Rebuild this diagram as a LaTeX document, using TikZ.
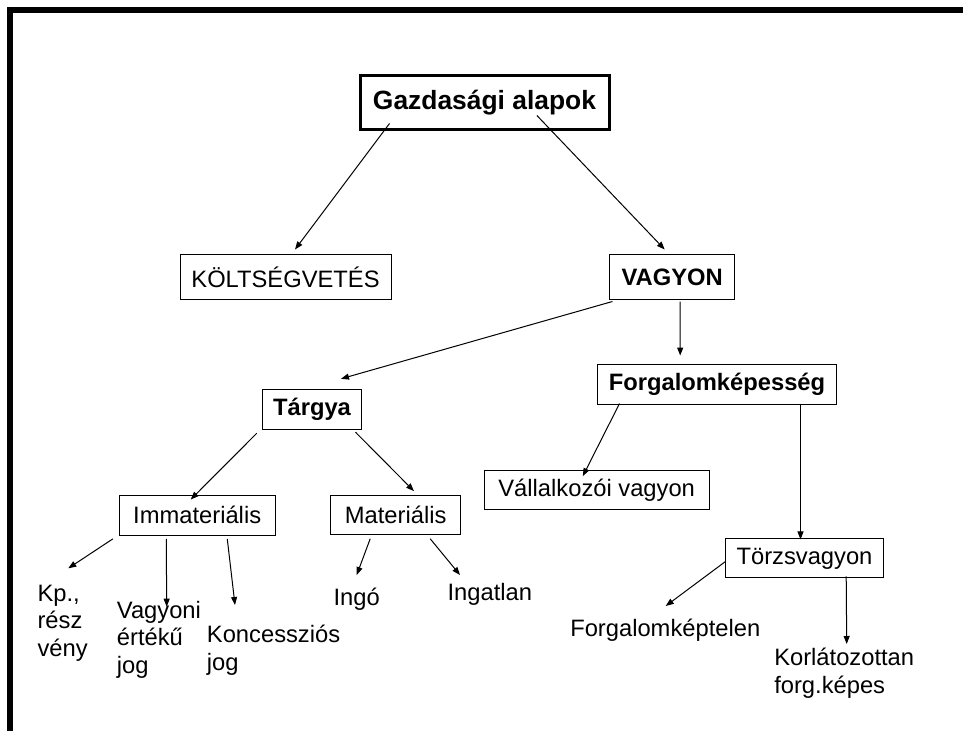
\documentclass[tikz,border=0pt]{standalone}
\usepackage{fontspec}
\setmainfont{Liberation Sans}
\usetikzlibrary{arrows.meta}
\usetikzlibrary{calc}
\tikzset{
	box/.style={draw, line width=0.75pt, inner sep=0pt, font=\fontsize{17.8}{20.5}\selectfont},
	leaf/.style={inner sep=0pt, anchor=base west, align=left, font=\fontsize{17.8}{20.5}\selectfont},
	arr/.style={line width=0.75pt, -{Triangle[length=6pt,width=4.5pt]}}
}

\begin{document}
\begin{tikzpicture}[x=0.75pt,y=-0.75pt]
		\useasboundingbox (0,0) rectangle (963,731) ;
		\draw[line width=4.5pt] (10,731) -- (10,10.5) -- (963,10.5) ;
\par
\node[box, line width=2.25pt, minimum width=186.75pt, minimum height=40.5pt, font=\fontsize{19.8}{23}\selectfont\bfseries] (gazd) at (484.5,103) {Gazdasági alapok} ;
		\node[box, minimum width=158.25pt, minimum height=33.75pt] (kolt) at (285.5,277) {KÖLTSÉGVETÉS} ;
		\node[box, minimum width=93.4pt, minimum height=33.75pt, font=\fontsize{17.8}{20.5}\selectfont\bfseries] (vagyon) at (672.2,277) {VAGYON} ;
		\node[box, minimum width=74.55pt, minimum height=30pt, font=\fontsize{17.8}{20.5}\selectfont\bfseries] (targya) at (312,409) {Tárgya} ;
		\node[box, minimum width=179.55pt, minimum height=29.8pt, font=\fontsize{17.8}{20.5}\selectfont\bfseries] (forg) at (717,384.2) {Forgalomképesség} ;
		\node[box, minimum width=169pt, minimum height=29.5pt] (vall) at (596.7,490.3) {Vállalkozói vagyon} ;
		\node[box, minimum width=118.2pt, minimum height=29pt] (torzs) at (804.5,558.3) {Törzsvagyon} ;
		\node[box, minimum width=117.2pt, minimum height=29.8pt] (immat) at (197.2,515.2) {Immateriális} ;
		\node[box, minimum width=97.5pt, minimum height=29.5pt] (mat) at (395.7,515.3) {Materiális} ;
\par
\node[leaf] (kp) at (37.3,656) {Kp.,\\rész\\vény} ;
		\node[leaf] (vagyoni) at (116.7,673) {Vagyoni\\értékű\\jog} ;
		\node[leaf] (konc) at (206.7,670) {Koncessziós\\jog} ;
		\node[leaf] (ingo) at (333.3,605.5) {Ingó} ;
		\node[leaf] (ingatlan) at (447.3,600) {Ingatlan} ;
		\node[leaf] (fkeptelen) at (570,636.7) {Forgalomképtelen} ;
		\node[leaf] (korl) at (774,693.3) {Korlátozottan\\forg.képes} ;
\par
\draw[arr] ($(gazd.south west)+(31,-8)$) -- ($(kolt.north)+(9.5,-4.5)$) ;
		\draw[arr] ($(gazd.south west)+(178.4,-16)$) -- ($(vagyon.north)+(-7.5,-4.5)$) ;
		\draw[arr] ($(vagyon.south west)+(3,1.5)$) -- ($(targya.north)+(29,-9.7)$) ;
		\draw[arr] ($(vagyon.south west)+(70.7,1.5)$) -- ($(forg.north west)+(83.4,-8.3)$) ;
		\draw[arr] ($(forg.south west)+(22.7,-1)$) -- ($(vall.north west)+(99.3,6)$) ;
		\draw[arr] ($(forg.south west)+(203.7,-1)$) -- ($(torzs.north west)+(75.3,1)$) ;
		\draw[arr] ($(torzs.west)+(0,3.4)$) -- ($(fkeptelen.base west)+(95.7,-30.7)$) ;
		\draw[arr] ($(torzs.south west)+(121,-1.7)$) -- ($(korl.base west)+(72.7,-49.3)$) ;
\par
\draw[arr] ($(targya.south west)+(-5,3.7)$) -- ($(immat.north)+(-6.5,4.7)$) ;
		\draw[arr] ($(targya.south east)+(-6.7,2.7)$) -- ($(mat.north)+(18.3,-4)$) ;
		\draw[arr] ($(immat.south west)+(-5.7,3.3)$) -- ($(kp.base west)+(31,-87.7)$) ;
		\draw[arr] ($(immat.south west)+(47.7,3.3)$) -- ($(vagyoni.base west)+(50,-66.3)$) ;
		\draw[arr] ($(immat.south west)+(108.7,3.3)$) -- ($(konc.base west)+(28.3,-65)$) ;
		\draw[arr] ($(mat.south west)+(40,3.3)$) -- ($(ingo.base west)+(23.4,-30.5)$) ;
		\draw[arr] ($(mat.south west)+(100,3.3)$) -- ($(ingatlan.base west)+(12.7,-25)$) ;
	\end{tikzpicture}
\end{document}
